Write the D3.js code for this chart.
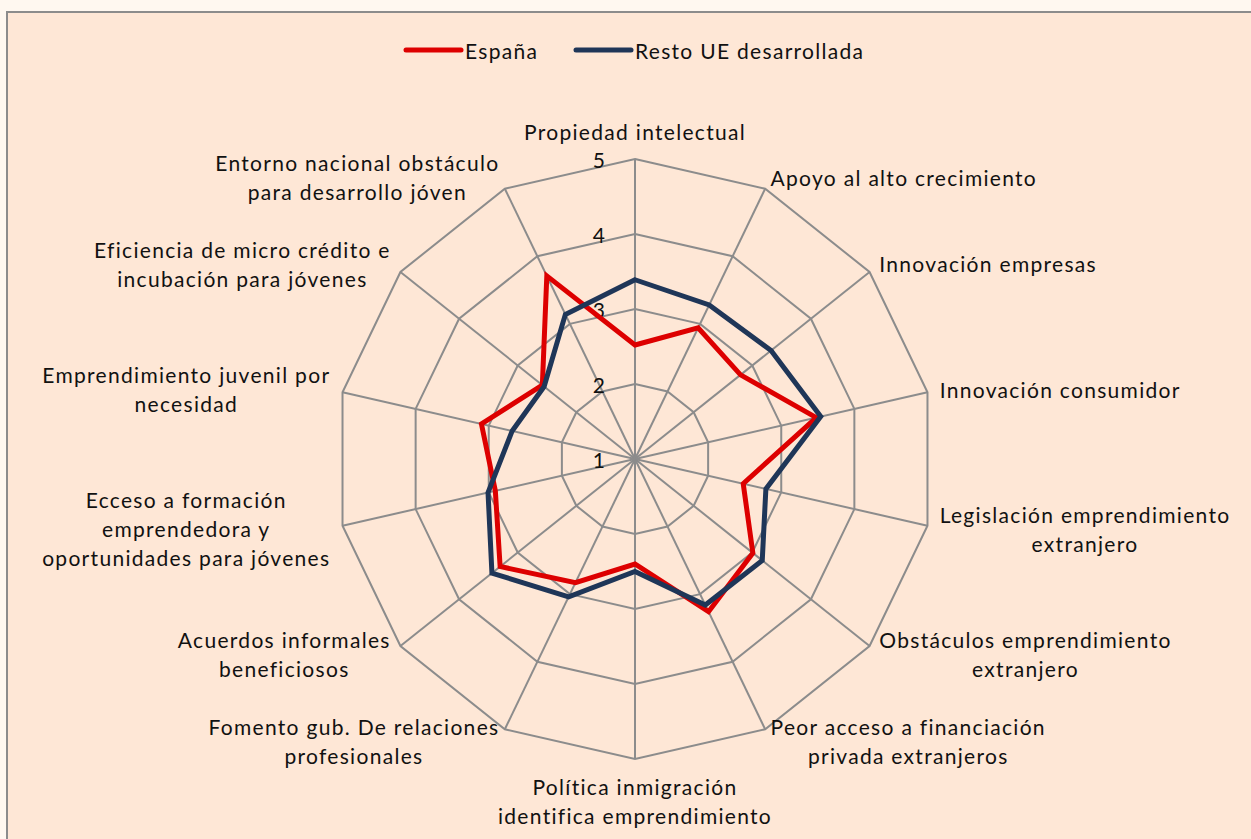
<!DOCTYPE html>
<html>
<head>
<meta charset="utf-8">
<script src="https://cdn.jsdelivr.net/npm/d3@7"></script>
<style>
  body { margin: 0; background: #FFF8F0; }
  svg { display: block; }
  text { font-family: Lato, "Open Sans", sans-serif; fill: #111; }
</style>
</head>
<body>
<div id="chart"></div>
<script>
// categories (one per spoke, clockwise from the top), lines split where the chart wraps them
let categories = [
    ["Propiedad intelectual"],
    ["Apoyo al alto crecimiento"],
    ["Innovación empresas"],
    ["Innovación consumidor"],
    ["Legislación emprendimiento", "extranjero"],
    ["Obstáculos emprendimiento", "extranjero"],
    ["Peor acceso a financiación", "privada extranjeros"],
    ["Política inmigración", "identifica emprendimiento"],
    ["Fomento gub. De relaciones", "profesionales"],
    ["Acuerdos informales", "beneficiosos"],
    ["Ecceso a formación", "emprendedora y", "oportunidades para jóvenes"],
    ["Emprendimiento juvenil por", "necesidad"],
    ["Eficiencia de micro crédito e", "incubación para jóvenes"],
    ["Entorno nacional obstáculo", "para desarrollo jóven"]
];

let espana  = [2.52, 2.94, 2.80, 3.48, 2.48, 3.01, 3.26, 2.40, 2.83, 3.30, 2.91, 3.10, 2.58, 3.71];
let restoUE = [3.39, 3.28, 3.32, 3.54, 2.79, 3.17, 3.16, 2.50, 3.04, 3.44, 3.01, 2.68, 2.55, 3.14];

let series_names = ["España", "Resto UE desarrollada"];
let ticks = [1, 2, 3, 4, 5];

let chart_width = 1251;
let chart_height = 839;

let cx = 635;
let cy = 459;
let outer_radius = 300;
let font_size = 21;
let letter_spacing = "1.3px";
let line_height = 29;

let colors = ["#DD0000", "#1F3658"];

let svg = d3.select("#chart")
    .append("svg")
    .attr("width", chart_width)
    .attr("height", chart_height);

// chart area with its border
svg.append("rect")
    .attr("x", 7)
    .attr("y", 12)
    .attr("width", chart_width + 20)
    .attr("height", chart_height + 20)
    .attr("fill", "#FEE7D6")
    .attr("stroke", "#8C8C8C")
    .attr("stroke-width", 2);

let rScale = d3.scaleLinear()
    .domain([ticks[0], ticks[ticks.length - 1]])
    .range([0, outer_radius]);

let n = categories.length;
let angle = function(i) { return i * 2 * Math.PI / n; };

let g = svg.append("g")
    .attr("transform", "translate(" + cx + "," + cy + ")");

// grid rings
let ring_line = d3.lineRadial()
    .curve(d3.curveLinearClosed)
    .angle(function(d, i) { return angle(i); })
    .radius(function(d) { return rScale(d); });

g.selectAll(".ring")
    .data(ticks.slice(1))
    .enter()
    .append("path")
    .attr("class", "ring")
    .attr("d", function(t) { return ring_line(d3.range(n).map(() => t)); })
    .attr("fill", "none")
    .attr("stroke", "#8C8C8C")
    .attr("stroke-width", 2);

// spokes
g.selectAll(".spoke")
    .data(categories)
    .enter()
    .append("line")
    .attr("class", "spoke")
    .attr("x1", 0)
    .attr("y1", 0)
    .attr("x2", function(d, i) { return rScale(ticks[ticks.length - 1]) * Math.sin(angle(i)); })
    .attr("y2", function(d, i) { return -rScale(ticks[ticks.length - 1]) * Math.cos(angle(i)); })
    .attr("stroke", "#8C8C8C")
    .attr("stroke-width", 2);

// value labels along the top spoke
g.selectAll(".tick_label")
    .data(ticks)
    .enter()
    .append("text")
    .attr("class", "tick_label")
    .attr("x", -30)
    .attr("y", function(d) { return -rScale(d); })
    .attr("text-anchor", "end")
    .attr("dominant-baseline", "central")
    .attr("font-size", font_size + "px")
    .text(function(d) { return d; });

// series
let series_line = d3.lineRadial()
    .curve(d3.curveLinearClosed)
    .angle(function(d, i) { return angle(i); })
    .radius(function(d) { return rScale(d); });

g.selectAll(".series")
    .data([espana, restoUE])
    .enter()
    .append("path")
    .attr("class", "series")
    .attr("d", function(d) { return series_line(d); })
    .attr("fill", "none")
    .attr("stroke", function(d, i) { return colors[i]; })
    .attr("stroke-width", 5)
    .attr("stroke-linejoin", "miter");

// category labels, placed outside the outer ring like the spreadsheet does
categories.forEach(function(lines, i) {
    let a = angle(i);
    let s = Math.sin(a);
    let c = Math.cos(a);
    let vx = rScale(ticks[ticks.length - 1]) * s;
    let vy = -rScale(ticks[ticks.length - 1]) * c;
    let h = lines.length * line_height;

    let label = g.append("g").attr("class", "cat_label");
    let texts = lines.map(function(line) {
        return label.append("text")
            .attr("font-size", font_size + "px")
            .attr("letter-spacing", letter_spacing)
            .attr("text-anchor", "middle")
            .attr("dominant-baseline", "central")
            .text(line);
    });
    let w = d3.max(texts, function(t) { return t.node().getComputedTextLength(); });

    let center_x, center_y;
    if (Math.abs(s) > 0.01) {
        center_x = s > 0 ? vx + 12.5 * s + w / 2 : vx + 12.5 * s - w / 2;
        center_y = vy - 13 * c;
    }
    else {
        center_x = vx;
        center_y = vy - c * (13 + h / 2);
    }
    texts.forEach(function(t, j) {
        t.attr("x", center_x)
         .attr("y", center_y - h / 2 + line_height / 2 + j * line_height);
    });
});

// legend
let legend_items = [{x: 406, name: series_names[0]}, {x: 576, name: series_names[1]}];
let legend = svg.append("g").attr("class", "legend");
legend_items.forEach(function(d, i) {
    legend.append("line")
        .attr("x1", d.x)
        .attr("x2", d.x + 55)
        .attr("y1", 50)
        .attr("y2", 50)
        .attr("stroke", colors[i])
        .attr("stroke-width", 5)
        .attr("stroke-linecap", "round");
    legend.append("text")
        .attr("x", d.x + 59)
        .attr("y", 50)
        .attr("dominant-baseline", "central")
        .attr("font-size", font_size + "px")
        .attr("letter-spacing", letter_spacing)
        .text(d.name);
});
</script>
</body>
</html>
